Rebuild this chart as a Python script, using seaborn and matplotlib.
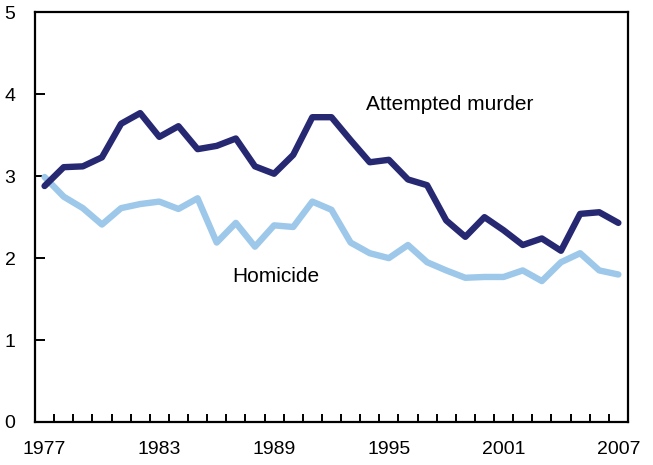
import numpy as np
import pandas as pd
import matplotlib
matplotlib.use("Agg")
import matplotlib.pyplot as plt
import seaborn as sns

# --- Dados --- #
anos = list(range(1977, 2008))
tentativa_homicidio = [2.88, 3.11, 3.12, 3.23, 3.64, 3.77, 3.48, 3.61, 3.33, 3.37,
                       3.46, 3.12, 3.03, 3.26, 3.72, 3.72, 3.44, 3.17, 3.20, 2.96,
                       2.89, 2.46, 2.26, 2.50, 2.34, 2.16, 2.24, 2.09, 2.54, 2.56,
                       2.43]
homicidio = [2.99, 2.75, 2.61, 2.41, 2.61, 2.66, 2.69, 2.60, 2.73, 2.19,
             2.43, 2.14, 2.40, 2.38, 2.69, 2.59, 2.19, 2.06, 2.00, 2.16,
             1.95, 1.85, 1.76, 1.77, 1.77, 1.85, 1.72, 1.95, 2.06, 1.85,
             1.80]
rotulos_x = [1977, 1983, 1989, 1995, 2001, 2007]
rotulos_y = [0, 1, 2, 3, 4, 5]

df = pd.DataFrame({
    "ano": anos * 2,
    "taxa": tentativa_homicidio + homicidio,
    "serie": ["Attempted murder"] * len(anos) + ["Homicide"] * len(anos),
})

sns.set_style("white")
plt.rcParams["font.family"] = ["Liberation Sans", "DejaVu Sans"]
plt.rcParams["text.color"] = "black"
plt.rcParams["xtick.color"] = "black"
plt.rcParams["ytick.color"] = "black"

fig = plt.figure(figsize=(6.53, 4.65), dpi=100)
ax = fig.add_axes([0.0536, 0.0925, 0.908, 0.881])

sns.lineplot(data=df, x="ano", y="taxa", hue="serie",
             palette={"Attempted murder": "#262872", "Homicide": "#9DC8EA"},
             linewidth=4.6, legend=False, ax=ax, zorder=3)
# linha escura por cima
ax.lines[0].set_zorder(4)

ax.set_xlim(1976.5, 2007.5)
ax.set_ylim(0, 5)
ax.set_xlabel("")
ax.set_ylabel("")

ax.set_xticks(rotulos_x)
ax.set_xticklabels([str(a) for a in rotulos_x])
ax.set_xticks(np.arange(1977.5, 2007.0, 1.0), minor=True)
ax.tick_params(axis="x", which="major", length=0, pad=14, labelsize=14,
               labelcolor="black")
ax.tick_params(axis="x", which="minor", direction="in", length=5.5, width=1.4,
               color="black", bottom=True)
ax.set_yticks(rotulos_y)
ax.tick_params(axis="y", which="major", direction="in", length=7, width=1.4,
               color="black", left=True, pad=14, labelsize=14, labelcolor="black")

for s in ax.spines.values():
    s.set_color("black")
    s.set_linewidth(1.6)

ax.text(1993.8, 3.88, "Attempted murder", fontsize=15, ha="left", va="center",
        color="black")
ax.text(1986.8, 1.77, "Homicide", fontsize=15, ha="left", va="center",
        color="black")

fig.savefig("out.png", dpi=100)
plt.close(fig)
